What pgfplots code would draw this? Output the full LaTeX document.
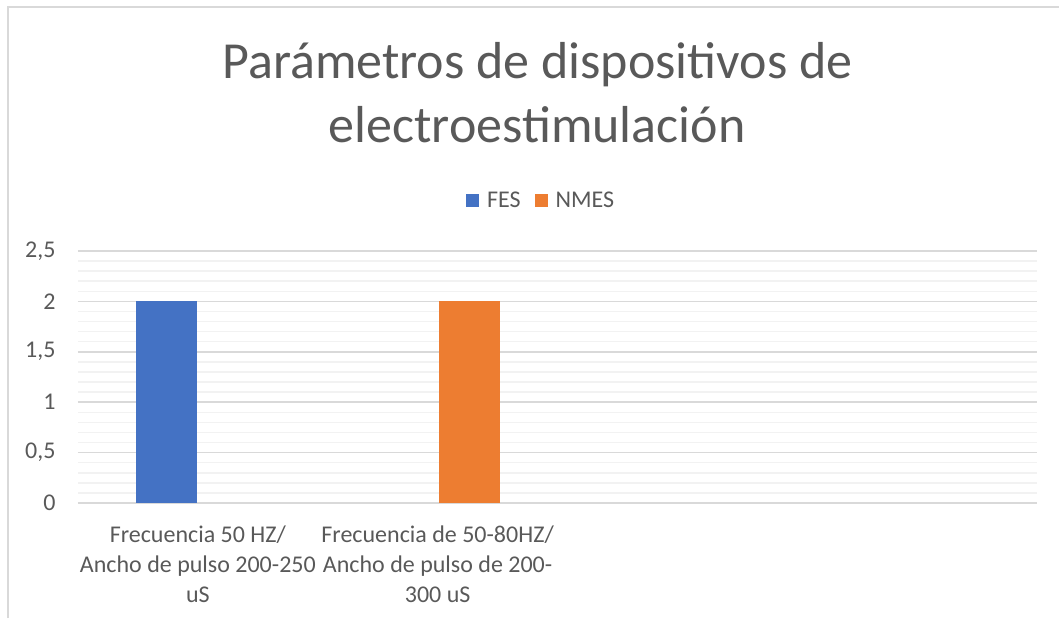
\documentclass[border=0pt]{standalone}
\usepackage{pgfplots}
\pgfplotsset{compat=1.18}
\usepackage{fontspec}
\setmainfont{Carlito}
\definecolor{txt}{HTML}{595959}
\definecolor{fesc}{HTML}{4472C4}
\definecolor{nmesc}{HTML}{ED7D31}
\definecolor{majg}{HTML}{D9D9D9}
\definecolor{ming}{HTML}{F2F2F2}
\begin{document}
\begin{tikzpicture}[x=1pt,y=1pt]
\useasboundingbox (0,0) rectangle (1059,618);
\draw[majg, line width=1.5pt] (8,0) -- (8,611) -- (1059,611);
\node[anchor=base, text=txt, font=\fontsize{52}{62}\selectfont, inner sep=0pt] at (537.5,539) {Parámetros de dispositivos de};
\node[anchor=base, text=txt, font=\fontsize{52}{62}\selectfont, inner sep=0pt] at (537,475) {electroestimulación};
\begin{axis}[
  at={(78pt,115pt)}, anchor=south west,
  scale only axis, width=959pt, height=252pt,
  ybar, bar width=61pt,
  xmin=-0.5, xmax=3.5, ymin=0, ymax=2.5,
  xtick={0,1},
  xticklabels={{Frecuencia 50 HZ/\\Ancho de pulso 200-250\\uS},{Frecuencia de 50-80HZ/\\Ancho de pulso de 200-\\300 uS}},
  ytick={0,0.5,1,1.5,2,2.5},
  minor y tick num=4,
  ymajorgrids, yminorgrids,
  major grid style={majg, line width=1.5pt},
  minor grid style={ming, line width=1.5pt},
  axis line style={draw=none},
  major tick length=0pt, minor tick length=0pt,
  tick style={draw=none},
  /pgf/number format/use comma,
  /pgf/number format/assume math mode=true,
  ticklabel style={font=\fontsize{24}{30}\selectfont, text=txt},
  xticklabel style={align=center, yshift=-19pt},
  yticklabel style={xshift=-19pt},
  legend style={draw=none, fill=none, at={(0.483,1.202)}, anchor=center,
    legend columns=2, font=\fontsize{24}{29}\selectfont, text=txt,
    /tikz/every odd column/.append style={column sep=6pt},
    /tikz/every even column/.append style={column sep=12pt}},
]
\addplot[fill=fesc, draw=none, legend image code/.code={\fill[fesc] (0pt,-6.5pt) rectangle (13pt,6.5pt);}] coordinates {(0,2)};
\addplot[fill=nmesc, draw=none, legend image code/.code={\fill[nmesc] (0pt,-6.5pt) rectangle (13pt,6.5pt);}] coordinates {(1,2)};
\legend{FES, NMES}
\end{axis}
\end{tikzpicture}
\end{document}
